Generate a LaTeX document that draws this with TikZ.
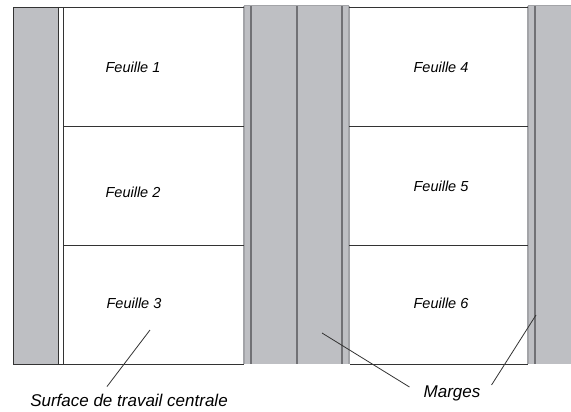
\documentclass[tikz,border=0pt]{standalone}
\usepackage{fontspec}
\setmainfont{Liberation Sans}
\definecolor{marge}{HTML}{BEBFC3}
\definecolor{trait}{HTML}{717175}
\definecolor{bord}{HTML}{A3A4A8}

\begin{document}
\begin{tikzpicture}[x=1pt, y=-1pt,
        feuille/.style={font=\fontsize{14.5}{16}\selectfont\itshape},
        legende/.style={font=\fontsize{17}{20}\selectfont\itshape}]
            \useasboundingbox (0,0) rectangle (571,412);

            \fill[marge] (13,7) rectangle (58,364);
            \fill[marge] (244,6) rectangle (349,364);
            \fill[marge] (528,6) rectangle (571,364);

            \foreach \x in {244, 349, 528} {
                \draw[bord, line width=1.2pt] (\x,6) -- (\x,364);
            }
            \foreach \x in {251, 297, 342, 535} {
                \draw[trait, line width=1.1pt] (\x,6) -- (\x,364);
            }
            \draw[bord, line width=1pt] (244,6) -- (349,6);
            \draw[bord, line width=1pt] (528,6) -- (571,6);

            \draw[black!80, line width=0.9pt] (244,364) -- (13,364) -- (13,7) -- (244,7);
            \draw[black!80, line width=0.9pt] (349,7) -- (528,7);
            \draw[black!80, line width=0.9pt] (350,364) -- (528,364);
            \draw[black!80, line width=0.9pt] (58,7) -- (58,364);
            \draw[black!80, line width=0.9pt] (63,7) -- (63,364);
            \foreach \y in {126, 245} {
                \draw[black!80, line width=0.9pt] (63,\y) -- (244,\y);
                \draw[black!80, line width=0.9pt] (349,\y) -- (528,\y);
            }

            \node (f1) at (133,67) [feuille] {Feuille 1};
            \node (f2) at (133,192) [feuille] {Feuille 2};
            \node (f3) at (134,303) [feuille] {Feuille 3};
            \node (f4) at (441,67) [feuille] {Feuille 4};
            \node (f5) at (441,186) [feuille] {Feuille 5};
            \node (f6) at (441,303) [feuille] {Feuille 6};

            \node (surface) at (129,400) [legende, inner ysep=7pt] {Surface de travail centrale};
            \node (marges) at (452,393) [legende, inner xsep=14pt] {Marges};

            \coordinate (centre) at (150,330);
            \coordinate (marge1) at (322,333);
            \coordinate (marge2) at (536,315);

            \draw[black!80, line width=0.8pt] (centre) -- ([xshift=-22pt]surface.north);
            \draw[black!80, line width=0.8pt] (marge1) -- ([yshift=6pt]marges.west);
            \draw[black!80, line width=0.8pt] (marge2) -- ([xshift=-3pt, yshift=8pt]marges.east);
        \end{tikzpicture}
\end{document}
